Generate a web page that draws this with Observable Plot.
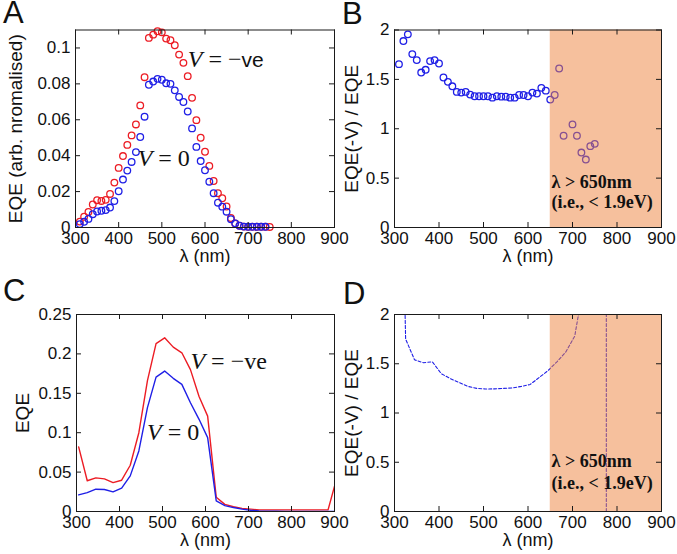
<!DOCTYPE html>
<html><head><meta charset="utf-8">
<script src="https://cdn.jsdelivr.net/npm/d3@7"></script>
<script src="https://cdn.jsdelivr.net/npm/@observablehq/plot@0.6"></script>
<style>
body{margin:0;background:#fff;}
#wrap{position:relative;width:677px;height:554px;overflow:hidden;font-family:"Liberation Sans",Arial,sans-serif;background:#fff;}
.letter{position:absolute;font-size:31px;line-height:26px;color:#111;}
</style></head><body><div id="wrap"></div>
<script>
// ---------- data ----------
const xTicks = [300, 400, 500, 600, 700, 800, 900];
const aYTicks = [0, 0.02, 0.04, 0.06, 0.08, 0.1];
const bYTicks = [0, 0.5, 1, 1.5, 2];
const cYTicks = [0, 0.05, 0.1, 0.15, 0.2, 0.25];
const dYTicks = [0, 0.5, 1, 1.5, 2];
const xLabel = "λ (nm)";

// Panel A: normalised EQE (points)
const aLamRed = [310,320,330,340,350,360,370,380,390,400,410,420,430,440,450,460,470,480,490,500,510,520,530,540,550,560,570,580,590,600,610,620,630,640,650,660,670,680,690,700,710,720,730,740,750];
const aRed = [0.0033,0.006,0.0087,0.0128,0.0152,0.0148,0.0154,0.0187,0.025,0.0332,0.0398,0.046,0.0513,0.0574,0.068,0.0837,0.1056,0.1074,0.1093,0.1087,0.1052,0.1043,0.1015,0.0963,0.0917,0.0843,0.0722,0.0598,0.05,0.0422,0.0343,0.0259,0.0191,0.0163,0.0117,0.0053,0.0022,0.001,0.0005,0.0004,0.0004,0.0004,0.0004,0.0004,0.0003];
const aLamBlue = [310,320,330,340,350,360,370,380,390,400,410,420,430,440,450,460,470,480,490,500,510,520,530,540,550,560,570,580,590,600,610,620,630,640,650,660,670,680,690,700,710,720,730,740];
const aBlue = [0.0019,0.0032,0.0048,0.0074,0.0089,0.0093,0.0097,0.0111,0.0147,0.0202,0.0267,0.0317,0.0365,0.042,0.0504,0.0617,0.0795,0.0813,0.0828,0.0823,0.0803,0.08,0.0764,0.0727,0.0699,0.0646,0.0552,0.0449,0.037,0.0319,0.0255,0.0191,0.0138,0.0116,0.0088,0.0046,0.0023,0.001,0.0005,0.0004,0.0004,0.0004,0.0004,0.0004];

// Panel B: ratio (points)
const bLam = [310,320,330,340,350,360,370,380,390,400,410,420,430,440,450,460,470,480,490,500,510,520,530,540,550,560,570,580,590,600,610,620,630,640,650,660,670,680,700,710,720,730,740,750];
const bRatio = [1.654,1.888,1.956,1.756,1.695,1.569,1.597,1.685,1.695,1.661,1.519,1.475,1.43,1.373,1.366,1.373,1.346,1.329,1.329,1.329,1.329,1.315,1.329,1.325,1.325,1.315,1.315,1.342,1.342,1.329,1.366,1.356,1.414,1.386,1.295,1.342,1.61,0.929,1.044,0.929,0.759,0.688,0.824,0.847];

// Panel C: EQE (lines)
const cLam = [305,325,345,365,385,405,425,445,465,485,505,525,545,565,585,605,625,645,665,685,705,725,745,765,785,805,825,845,865,885,905];
const cRed = [0.082,0.039,0.0427,0.0414,0.0367,0.0397,0.0587,0.100,0.166,0.213,0.2204,0.2086,0.2014,0.18,0.146,0.121,0.018,0.009,0.006,0.004,0.003,0.002,0.002,0.002,0.002,0.002,0.002,0.002,0.002,0.002,0.042];
const cBlue = [0.0211,0.024,0.0283,0.0279,0.0249,0.0296,0.0452,0.0769,0.1318,0.1706,0.1782,0.169,0.1613,0.138,0.117,0.0938,0.0135,0.0075,0.005,0.003,0.0015,0.0008,0.0005,0.0003,0.0002,0.0001,0.0001,0,0,0,0];

// Panel D: ratio (dashed line)
const dLam = [305,325,345,365,385,405,425,445,465,485,505,525,545,565,585,605,625,645,665,685,705,725];
const dRatio = [6,1.75,1.54,1.51,1.52,1.40,1.35,1.31,1.27,1.25,1.244,1.245,1.25,1.255,1.27,1.29,1.36,1.43,1.52,1.62,1.78,2.3];
const dPoleLam = [776, 776];
const dPoleRatio = [0, 2];

const shade = [{from: 650, to: 900}];
const notesA = [{l: 560, v: 0.0893, t: "V = −ve"}, {l: 444, v: 0.0343, t: "V = 0"}];
const notesC = [{l: 565, v: 0.181, t: "V = −ve"}, {l: 464, v: 0.091, t: "V = 0"}];
const notesB = [{l: 653, v: 0.40, t: "λ > 650nm"}, {l: 653, v: 0.20, t: "(i.e., < 1.9eV)"}];
const notesD = [{l: 653, v: 0.45, t: "λ > 650nm"}, {l: 653, v: 0.23, t: "(i.e., < 1.9eV)"}];

// ---------- drawing ----------
const RED = "#ec1c24", BLUE = "#1f1fe6", INK = "#1a1a1a";
const SHADE = "rgb(237,130,60)";
const wrap = document.getElementById("wrap");
const zip = (ls, vs) => ls.map((l, i) => ({l, v: vs[i]}));

function panel(o) {
  const fw = o.width - o.ml - o.mr, fh = o.height - o.mt - o.mb, tk = 5;
  const marks = [
    ...o.marks,
    Plot.tickX(xTicks, {x: d => d, insetTop: fh - tk, stroke: INK}),
    Plot.tickX(xTicks, {x: d => d, insetBottom: fh - tk, stroke: INK}),
    Plot.tickY(o.yTicks, {y: d => d, insetRight: fw - tk, stroke: INK}),
    Plot.tickY(o.yTicks, {y: d => d, insetLeft: fw - tk, stroke: INK}),
    Plot.frame({stroke: INK}),
    Plot.axisX(xTicks, {tickSize: 0, tickPadding: 4, tickFormat: d => String(d), label: null, fontSize: 17, fill: "#111"}),
    Plot.axisY(o.yTicks, {tickSize: 0, tickPadding: 5, tickFormat: d => String(d), label: null, fontSize: 17, fill: "#111"}),
    Plot.text([xLabel], {text: d => d, frameAnchor: "bottom", textAnchor: "middle", lineAnchor: "middle", dy: 29, fontSize: 18, fill: "#111"}),
    Plot.text([o.yLabel], {text: d => d, frameAnchor: "left", textAnchor: "middle", lineAnchor: "middle", rotate: -90, dx: o.yLabelDx, fontSize: 19, fill: "#111"})
  ];
  const svg = Plot.plot({
    width: o.width, height: o.height,
    marginLeft: o.ml, marginRight: o.mr, marginTop: o.mt, marginBottom: o.mb,
    x: {domain: [300, 900]}, y: {domain: o.yDomain},
    marks,
    style: {fontFamily: "'Liberation Sans', Arial, sans-serif", overflow: "visible", background: "transparent", color: "#111"}
  });
  svg.style.position = "absolute";
  svg.style.left = o.left + "px";
  svg.style.top = o.top + "px";
  wrap.appendChild(svg);
  return svg;
}

function italicV(svg, sansTail) {
  d3.select(svg).selectAll("text").each(function () {
    const s = this.textContent;
    if (s.startsWith("V =")) {
      const sel = d3.select(this);
      sel.text(null);
      sel.append("tspan").attr("font-style", "italic").text("V");
      if (sansTail && s.endsWith("ve")) {
        sel.append("tspan").text(" = −");
        sel.append("tspan").attr("font-family", "'Liberation Sans', Arial, sans-serif").attr("font-size", "21").text("ve");
      } else {
        sel.append("tspan").text(s.slice(1));
      }
    }
  });
}

const noteMarks = (notes, opts) => Plot.text(notes, {x: "l", y: "v", text: "t", textAnchor: "start", lineAnchor: "bottom", ...opts});

// A
const svgA = panel({left: 0, top: 0, width: 338, height: 270, ml: 75, mr: 4, mt: 29.5, mb: 43,
  yDomain: [0, 0.11], yTicks: aYTicks, yLabel: "EQE (arb. nromalised)", yLabelDx: -60,
  marks: [
    Plot.dot(zip(aLamRed, aRed), {x: "l", y: "v", r: 3.3, stroke: RED, strokeWidth: 1.3, fill: "none"}),
    Plot.dot(zip(aLamBlue, aBlue), {x: "l", y: "v", r: 3.3, stroke: BLUE, strokeWidth: 1.3, fill: "none"}),
    noteMarks(notesA, {fontSize: 24, fontFamily: "'Liberation Serif', serif", fill: "#111"})
  ]});
italicV(svgA, true);

// B
panel({left: 338, top: 0, width: 339, height: 270, ml: 56, mr: 16, mt: 29.5, mb: 43,
  yDomain: [0, 2], yTicks: bYTicks, yLabel: "EQE(-V) / EQE", yLabelDx: -43,
  marks: [
    Plot.dot(zip(bLam, bRatio), {x: "l", y: "v", r: 3.3, stroke: BLUE, strokeWidth: 1.3, fill: "none"}),
    Plot.rect(shade, {x1: "from", x2: "to", fill: SHADE, fillOpacity: 0.5}),
    noteMarks(notesB, {fontSize: 18, fontWeight: "bold", fontFamily: "'Liberation Serif', serif", fill: "#111"})
  ]});

// C
const svgC = panel({left: 0, top: 270, width: 338, height: 284, ml: 76, mr: 4, mt: 44, mb: 43,
  yDomain: [0, 0.25], yTicks: cYTicks, yLabel: "EQE", yLabelDx: -54,
  marks: [
    Plot.line(zip(cLam, cRed), {x: "l", y: "v", stroke: RED, strokeWidth: 1.4, clip: true}),
    Plot.line(zip(cLam, cBlue), {x: "l", y: "v", stroke: BLUE, strokeWidth: 1.4, clip: true}),
    noteMarks(notesC, {fontSize: 24, fontFamily: "'Liberation Serif', serif", fill: "#111"})
  ]});
italicV(svgC, false);

// D
panel({left: 338, top: 270, width: 339, height: 284, ml: 56, mr: 16, mt: 44, mb: 43,
  yDomain: [0, 2], yTicks: dYTicks, yLabel: "EQE(-V) / EQE", yLabelDx: -43,
  marks: [
    Plot.line(zip(dLam, dRatio), {x: "l", y: "v", stroke: BLUE, strokeWidth: 1.1, strokeDasharray: "3,2", clip: true}),
    Plot.line(zip(dPoleLam, dPoleRatio), {x: "l", y: "v", stroke: BLUE, strokeWidth: 1.1, strokeDasharray: "3,2", clip: true}),
    Plot.rect(shade, {x1: "from", x2: "to", fill: SHADE, fillOpacity: 0.5}),
    noteMarks(notesD, {fontSize: 18, fontWeight: "bold", fontFamily: "'Liberation Serif', serif", fill: "#111"})
  ]});

// panel letters
[["A", 3, 0], ["B", 342, 1], ["C", 3, 278], ["D", 343, 281]].forEach(([t, x, y]) => {
  const d = document.createElement("div");
  d.className = "letter"; d.textContent = t;
  d.style.left = x + "px"; d.style.top = y + "px";
  wrap.appendChild(d);
});
</script></body></html>
